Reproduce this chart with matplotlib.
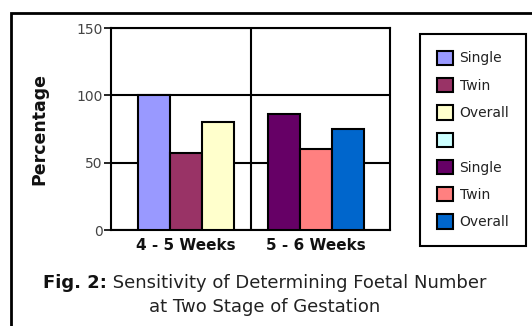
import numpy as np
import matplotlib
matplotlib.use("Agg")
import matplotlib.pyplot as plt
from matplotlib.patches import Patch, Rectangle

plt.rcParams['font.family'] = ['DejaVu Sans']

# sensitivity (%) at each stage of gestation
stages = ['4 - 5 Weeks', '5 - 6 Weeks']
single_45 = [100, np.nan]
twin_45 = [57, np.nan]
overall_45 = [80, np.nan]
single_56 = [np.nan, 86]
twin_56 = [np.nan, 60]
overall_56 = [np.nan, 75]

series = [
    ('Single', single_45, '#9999FF'),
    ('Twin', twin_45, '#993366'),
    ('Overall', overall_45, '#FFFFCC'),
    ('Single', single_56, '#660066'),
    ('Twin', twin_56, '#FF8080'),
    ('Overall', overall_56, '#0066CC'),
]
blank_colour = '#CCFFFF'

W, H = 532, 326
fig = plt.figure(figsize=(W / 100, H / 100), dpi=100)
ax = fig.add_axes([111 / W, 1 - 230 / H, (390 - 111) / W, (230 - 28) / H])

x = np.arange(len(stages))
width = 0.23
offsets = [-1, 0, 1, -1, 0, 1]
shift = np.array([0.035, -0.03])
handles = []
for (label, vals, col), off in zip(series, offsets):
    b = ax.bar(x + shift + off * width, vals, width, color=col,
               edgecolor='black', linewidth=1.5, label=label, zorder=3)
    handles.append(b)

ax.set_xlim(-0.5, 1.5)
ax.set_ylim(0, 150)
ax.set_yticks([0, 50, 100, 150])
ax.set_yticklabels(['0', '50', '100', '150'], fontsize=10, color='#444444')
ax.set_xticks(x + shift)
ax.set_xticklabels(stages, fontsize=11, fontweight='bold', color='#111111')
ax.tick_params(axis='x', length=0, pad=6)
ax.tick_params(axis='y', length=5, width=1.2, pad=1)
ax.yaxis.grid(True, color='black', linewidth=1.5, zorder=0)
ax.axvline(0.5, color='black', linewidth=1.5, zorder=1)
for s in ax.spines.values():
    s.set_linewidth(1.5)
ax.set_ylabel('Percentage', fontsize=12.5, fontweight='bold', labelpad=20,
              color='#111111')

# legend: three entries per stage with an empty swatch between them
leg_handles = handles[:3] + [Patch(facecolor=blank_colour, edgecolor='black', linewidth=1.5)] + handles[3:]
leg_labels = ['Single', 'Twin', 'Overall', '', 'Single', 'Twin', 'Overall']
leg = fig.legend(leg_handles, leg_labels, loc='upper left',
                 bbox_to_anchor=(420 / W, 1 - 34 / H), borderaxespad=0,
                 fancybox=False, edgecolor='black', framealpha=1, fontsize=10,
                 handlelength=1.2, handleheight=1.2, handletextpad=0.45,
                 labelspacing=0.9, borderpad=1.2)
leg.get_frame().set_linewidth(1.5)
for t in leg.get_texts():
    t.set_color('#222222')

# outer frame
fig.patches.append(Rectangle((11 / W, -0.05), 1.2, 1 - 13 / H + 0.05,
                             transform=fig.transFigure, fill=False,
                             edgecolor='black', linewidth=2))

# caption, bold figure number followed by plain text
cap_y1 = 1 - 283 / H
cap_y2 = 1 - 307 / H
cap_size = 13
t1 = fig.text(0, cap_y1, 'Fig. 2:', fontsize=cap_size, fontweight='bold',
              va='center', color='#111111')
t2 = fig.text(0, cap_y1, ' Sensitivity of Determining Foetal Number',
              fontsize=cap_size, va='center', color='#222222')
r = fig.canvas.get_renderer()
w1 = t1.get_window_extent(r).width
w2 = t2.get_window_extent(r).width
x0 = 265 - (w1 + w2) / 2
t1.set_x(x0 / W)
t2.set_x((x0 + w1) / W)
fig.text(265 / W, cap_y2, 'at Two Stage of Gestation', fontsize=cap_size,
         ha='center', va='center', color='#222222')

fig.savefig('out.png', dpi=100)
